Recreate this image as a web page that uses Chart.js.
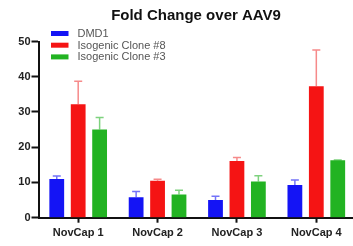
<!DOCTYPE html>
<html><head><meta charset="utf-8">
<script src="https://cdn.jsdelivr.net/npm/chart.js@4/dist/chart.umd.min.js"></script>
<style>
html,body{margin:0;padding:0;background:#fff;overflow:hidden;width:353px;height:246px;}
#wrap{width:356px;height:246px;position:relative;}
</style></head>
<body><div id="wrap"><canvas id="c" width="356" height="246"></canvas></div>
<script>
const chartTitle = "Fold Change over AAV9";
const categories = ["NovCap 1", "NovCap 2", "NovCap 3", "NovCap 4"];
const seriesNames = ["DMD1", "Isogenic Clone #8", "Isogenic Clone #3"];
const dmd1 = [11.0, 5.8, 5.0, 9.3];
const clone8 = [32.2, 10.5, 16.1, 37.3];
const clone3 = [25.0, 6.6, 10.3, 16.3];
const dmd1Err = [0.8, 1.6, 1.1, 1.4];
const clone8Err = [6.5, 0.4, 1.0, 10.3];
const clone3Err = [3.4, 1.2, 1.6, 0.1];
const yTicks = [0, 10, 20, 30, 40, 50];
const colors = ["#1414F5", "#F51414", "#22B322"];
const errColors = ["rgba(40,40,245,0.65)", "rgba(240,60,60,0.6)", "rgba(40,180,40,0.6)"];

const values = [dmd1, clone8, clone3];
const errs = [dmd1Err, clone8Err, clone3Err];
const FONT = "'Liberation Sans', Arial, sans-serif";

const errorBars = {
  id: 'errorBars',
  afterDatasetsDraw(chart) {
    const ctx = chart.ctx, y = chart.scales.y;
    chart.data.datasets.forEach((ds, i) => {
      const meta = chart.getDatasetMeta(i);
      meta.data.forEach((bar, j) => {
        const v = ds.data[j], e = errs[i][j];
        const yTop = y.getPixelForValue(v + e);
        const yBar = y.getPixelForValue(v);
        ctx.save();
        ctx.strokeStyle = errColors[i];
        ctx.lineWidth = 1.5;
        ctx.beginPath();
        ctx.moveTo(bar.x, yBar);
        ctx.lineTo(bar.x, yTop);
        ctx.moveTo(bar.x - 4, yTop);
        ctx.lineTo(bar.x + 4, yTop);
        ctx.stroke();
        ctx.restore();
      });
    });
  }
};

const titleLegend = {
  id: 'titleLegend',
  afterDraw(chart) {
    const ctx = chart.ctx, a = chart.chartArea;
    ctx.save();
    ctx.fillStyle = "#111";
    ctx.font = "bold 15px " + FONT;
    ctx.textAlign = "center";
    ctx.textBaseline = "middle";
    ctx.fillText(chartTitle, 196, 15.5);
    ctx.font = "11px " + FONT;
    ctx.textAlign = "left";
    chart.data.datasets.forEach((ds, i) => {
      const cy = 33.5 + i * 11.7;
      ctx.fillStyle = colors[i];
      ctx.fillRect(51, cy - 2.5, 17.5, 5);
      ctx.fillStyle = "#555";
      ctx.fillText(ds.label, 77.5, cy + 0.5);
    });
    ctx.restore();
  }
};

new Chart(document.getElementById('c'), {
  type: 'bar',
  data: {
    labels: categories,
    datasets: seriesNames.map((n, i) => ({
      label: n,
      data: values[i],
      backgroundColor: colors[i],
      borderWidth: 0,
      barPercentage: 0.69,
      categoryPercentage: 0.81
    }))
  },
  options: {
    responsive: false,
    animation: false,
    devicePixelRatio: 1,
    layout: { padding: { top: 41.5, right: 0, bottom: 0, left: 0 } },
    plugins: { legend: { display: false }, title: { display: false }, tooltip: { enabled: false } },
    scales: {
      x: {
        offset: true,
        grid: { display: true, drawOnChartArea: false, offset: false, tickLength: 5, tickWidth: 2, tickColor: '#111' },
        border: { color: '#111', width: 2 },
        ticks: { color: '#222', padding: 4, font: { family: FONT, size: 11, weight: 'bold' }, maxRotation: 0 },
        afterFit(s) { s.height = 28.3; }
      },
      y: {
        min: 0, max: 50,
        afterBuildTicks(s) { s.ticks = yTicks.map(v => ({ value: v })); },
        grid: { display: true, drawOnChartArea: false, tickLength: 7, tickWidth: 2, tickColor: '#111' },
        border: { color: '#111', width: 2 },
        ticks: { color: '#222', padding: 1, font: { family: FONT, size: 11, weight: 'bold' } },
        afterFit(s) { s.width = 38.5; }
      }
    }
  },
  plugins: [errorBars, titleLegend]
});
</script></body></html>
